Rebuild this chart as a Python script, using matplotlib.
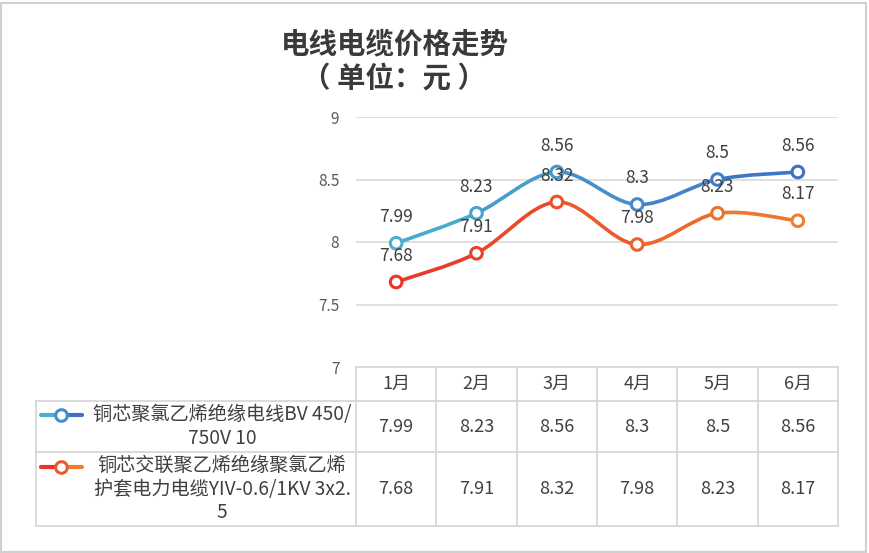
import numpy as np
import matplotlib
matplotlib.use('Agg')
import matplotlib.pyplot as plt
from matplotlib.path import Path
from matplotlib.patches import PathPatch, Rectangle
from matplotlib.colors import to_rgb

plt.rcParams['font.family'] = ['Noto Sans CJK SC', 'DejaVu Sans']

# 数据
months = ['1月', '2月', '3月', '4月', '5月', '6月']
bv_price = [7.99, 8.23, 8.56, 8.3, 8.5, 8.56]
yjv_price = [7.68, 7.91, 8.32, 7.98, 8.23, 8.17]
series_names = ['铜芯聚氯乙烯绝缘电线BV 450/\n750V 10',
                '铜芯交联聚乙烯绝缘聚氯乙烯\n护套电力电缆YIV-0.6/1KV 3x2.\n5']
series_colors = [('#4bb0cf', '#3f6fc6'), ('#e8322a', '#ef7f2e')]
yticks = [7, 7.5, 8, 8.5, 9]
ytick_labels = ['7', '7.5', '8', '8.5', '9']

W, H = 869, 553
fig = plt.figure(figsize=(W / 100, H / 100), dpi=100)
fig.patches.append(Rectangle((1 / W, 1 / H), (W - 4) / W, (H - 4) / H,
                             transform=fig.transFigure, fill=False,
                             edgecolor='#d0d0d0', linewidth=1.5))


def px_box(x0, y0, x1, y1):
    return [x0 / W, 1 - y1 / H, (x1 - x0) / W, (y1 - y0) / H]


def blend(c0, c1, t):
    a, b = np.array(to_rgb(c0)), np.array(to_rgb(c1))
    return tuple(a + (b - a) * t)


plot_l, plot_r, plot_t, plot_b = 356, 838, 117, 367
ax = fig.add_axes(px_box(plot_l, plot_t, plot_r, plot_b))
ax.set_xlim(-0.5, len(months) - 0.5)
ax.set_ylim(7, 9)
for s in ax.spines.values():
    s.set_visible(False)
ax.set_xticks([])
ax.set_yticks(yticks)
ax.set_yticklabels(ytick_labels, fontsize=11, color='#595959')
ax.tick_params(axis='y', length=0, pad=12)
for v in yticks[1:]:
    ax.axhline(v, color='#d9d9d9', linewidth=1.2, zorder=0)


def smooth_segments(xs, ys):
    # Excel风格平滑曲线: 每段一个三次贝塞尔
    pts = np.column_stack([xs, ys]).astype(float)
    n = len(pts)
    segs = []
    for i in range(n - 1):
        p0 = pts[max(i - 1, 0)]
        p1 = pts[i]
        p2 = pts[i + 1]
        p3 = pts[min(i + 2, n - 1)]
        c1 = p1 + (p2 - p0) / 6
        c2 = p2 - (p3 - p1) / 6
        segs.append([p1, c1, c2, p2])
    return segs


x = np.arange(len(months))
for vals, (c0, c1) in zip([bv_price, yjv_price], series_colors):
    segs = smooth_segments(x, vals)
    for i, seg in enumerate(segs):
        col = blend(c0, c1, (i + 0.5) / (len(segs)))
        path = Path(seg, [Path.MOVETO, Path.CURVE4, Path.CURVE4, Path.CURVE4])
        ax.add_patch(PathPatch(path, fill=False, edgecolor=col, linewidth=2.6,
                               capstyle='round', zorder=3))
    mcols = [blend(c0, c1, i / (len(vals) - 1)) for i in range(len(vals))]
    ax.scatter(x, vals, s=70, facecolor='white', edgecolors=mcols,
               linewidths=2.2, zorder=4)
    for xi, v in zip(x, vals):
        ax.annotate(f'{v:g}', (xi, v), xytext=(0, 19), textcoords='offset points',
                    ha='center', va='center', fontsize=12.5, color='#404040',
                    zorder=5)

# 数据表
tab_l = 36
row_y = [367, 401, 452, 526]
tax = fig.add_axes(px_box(tab_l, row_y[0], plot_r, row_y[-1]))
tax.set_xlim(tab_l, plot_r)
tax.set_ylim(row_y[-1], row_y[0])
tax.axis('off')
col_w = (plot_r - plot_l) / len(months)
col_x = [plot_l + i * col_w for i in range(len(months) + 1)]
gc = '#d4d4d4'
tax.plot([plot_l, plot_r], [row_y[0], row_y[0]], color=gc, lw=1.2, clip_on=False)
for yy in row_y[1:]:
    tax.plot([tab_l, plot_r], [yy, yy], color=gc, lw=1.2, clip_on=False)
tax.plot([tab_l, tab_l], [row_y[1], row_y[-1]], color=gc, lw=1.2, clip_on=False)
for xx in col_x:
    tax.plot([xx, xx], [row_y[0], row_y[-1]], color=gc, lw=1.2, clip_on=False)

for i, m in enumerate(months):
    tax.text(col_x[i] + col_w / 2, (row_y[0] + row_y[1]) / 2, m, ha='center',
             va='center', fontsize=13, color='#404040')

line_h = 22.5
for r, (vals, name, (c0, c1)) in enumerate(zip([bv_price, yjv_price],
                                                series_names, series_colors)):
    yc = (row_y[r + 1] + row_y[r + 2]) / 2
    for i, v in enumerate(vals):
        tax.text(col_x[i] + col_w / 2, yc, f'{v:g}', ha='center', va='center',
                 fontsize=13, color='#404040')
    tax.text(222, yc, name, ha='center', va='center', multialignment='center',
             fontsize=13.8, color='#404040', linespacing=1.15)
    nl = name.count('\n') + 1
    my = yc - (nl - 1) / 2 * line_h
    tax.plot([41, 61], [my, my], color=c0, lw=3, solid_capstyle='round')
    tax.plot([61, 82], [my, my], color=c1, lw=3, solid_capstyle='round')
    tax.scatter([61], [my], s=70, facecolor='white',
                edgecolors=[blend(c0, c1, 0.5)], linewidths=2.2, zorder=4)

fig.text(395 / W, 1 - 44 / H, '电线电缆价格走势', ha='center', va='center',
         fontsize=20.5, fontweight='bold', color='#3a3a3a')
fig.text(394 / W, 1 - 79 / H, '（ 单位：元 ）', ha='center', va='center',
         fontsize=20.5, fontweight='bold', color='#3a3a3a')

fig.savefig('out.png', dpi=100)
